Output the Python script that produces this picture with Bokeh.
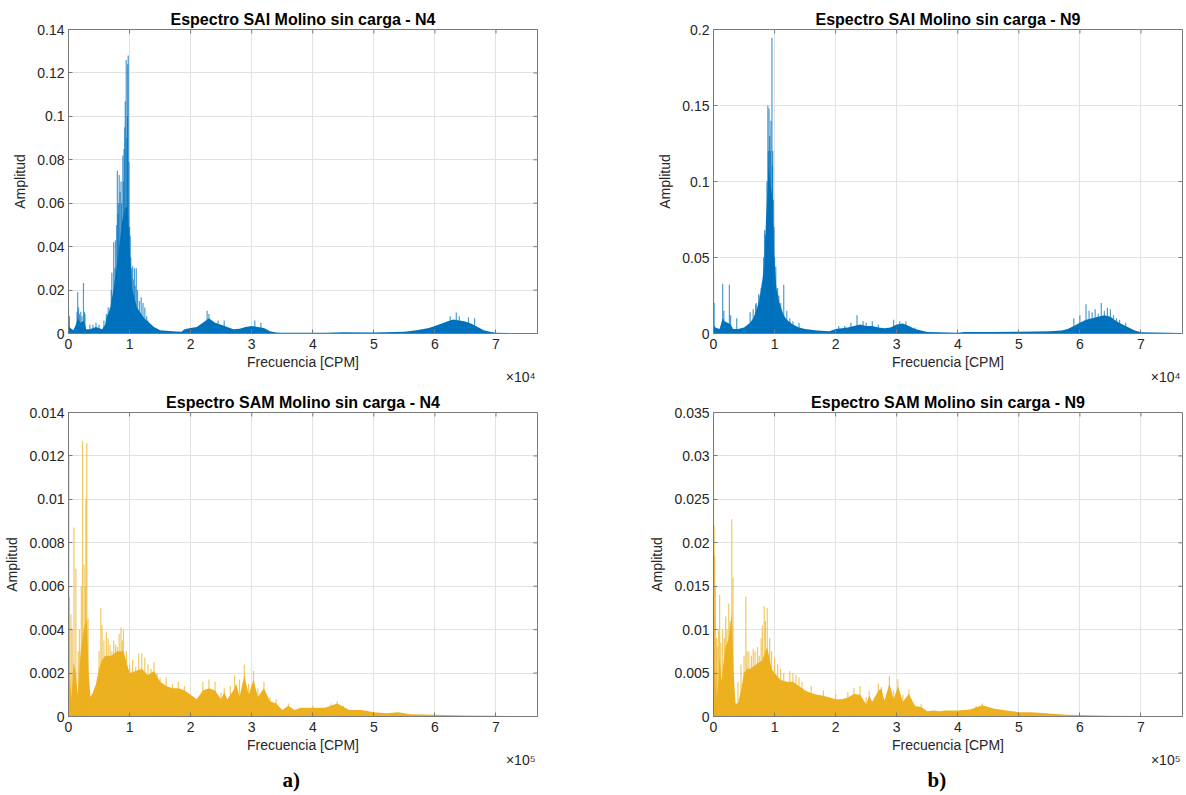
import math
from bokeh.plotting import figure
from bokeh.layouts import column, row
from bokeh.models import (Range1d, FixedTicker, CustomJSTickFormatter, Title, ColumnDataSource)
from bokeh.embed import file_html
from bokeh.resources import INLINE

# ---------------- data ----------------
# SAI spectrum, N4  (frequency in CPM, amplitude)
sai_n4_body_f = [0, 300, 800, 1200, 1500, 2000, 2500, 2900, 3500, 4500, 5500, 6000, 6300, 6800, 7400,
                 8000, 8300, 8800, 9300, 9700, 10000, 10400, 11200, 12400, 14000, 15000, 17000, 18500,
                 19000, 20000, 21000, 22000, 23000, 24000, 25000, 26000, 27000, 28000, 29000, 30000,
                 31000, 32000, 33000, 34000, 35000, 42000, 45000, 50000, 55000, 57000, 59000, 60000,
                 61000, 62000, 63000, 64000, 65000, 66000, 67000, 68000, 69000, 70000, 76800]
sai_n4_body_a = [0.004, 0.0025, 0.0015, 0.004, 0.007, 0.005, 0.006, 0.002, 0.002, 0.003, 0.002, 0.004,
                 0.008, 0.011, 0.021, 0.033, 0.04, 0.052, 0.058, 0.058, 0.04, 0.021, 0.012, 0.007, 0.003,
                 0.0015, 0.001, 0.0008, 0.002, 0.0025, 0.003, 0.005, 0.007, 0.005, 0.004, 0.003, 0.002,
                 0.0022, 0.003, 0.0035, 0.003, 0.0025, 0.001, 0.0005, 0.0003, 0.0003, 0.0006, 0.0005,
                 0.0008, 0.0015, 0.0025, 0.0035, 0.0045, 0.0055, 0.0065, 0.006, 0.0055, 0.0045, 0.003,
                 0.0015, 0.0008, 0.0003, 0.0002]
sai_n4_peak_f = [0, 150, 1400, 1500, 1650, 1800, 2000, 2200, 2450, 2600, 2700, 3500, 4000, 4500, 5000,
                 5800, 6200, 6500, 6800, 7000, 7100, 7400, 7600, 7700, 7900, 8000, 8100, 8200, 8300,
                 8450, 8600, 8700, 8900, 9000, 9100, 9200, 9300, 9450, 9550, 9650, 9700, 9780, 9900,
                 10000, 10100, 10200, 10300, 10500, 10600, 10800, 10900, 11100, 11300, 11600, 11900,
                 12200, 12500, 12800, 13000, 22700, 23000, 24500, 25500, 30500, 31500, 62500, 63500,
                 64000, 65500, 66500]
sai_n4_peak_a = [0.0114, 0.008, 0.01, 0.019, 0.012, 0.009, 0.01, 0.008, 0.0233, 0.01, 0.009, 0.004,
                 0.004, 0.005, 0.004, 0.006, 0.009, 0.012, 0.012, 0.02, 0.028, 0.042, 0.03, 0.043,
                 0.05, 0.075, 0.055, 0.06, 0.073, 0.065, 0.07, 0.06, 0.082, 0.07, 0.085, 0.095, 0.107,
                 0.126, 0.09, 0.1, 0.124, 0.128, 0.079, 0.049, 0.045, 0.035, 0.03, 0.031, 0.025, 0.03,
                 0.022, 0.030, 0.02, 0.015, 0.0167, 0.014, 0.012, 0.008, 0.006, 0.0105, 0.009, 0.006,
                 0.006, 0.006, 0.005, 0.008, 0.0097, 0.008, 0.0075, 0.007]

# SAI spectrum, N9
sai_n9_body_f = [0, 300, 1000, 1500, 1800, 2300, 2800, 3200, 4000, 5000, 6000, 6500, 7000, 7500, 8000,
                 8300, 8600, 8800, 9000, 9300, 9600, 9800, 10000, 10300, 10800, 11500, 12000, 13000,
                 14000, 15000, 17000, 19000, 20000, 21000, 22000, 23000, 24000, 25000, 26000, 27000,
                 28000, 29000, 30000, 31000, 32000, 33000, 34000, 35000, 37000, 40000, 41000, 45000,
                 50000, 55000, 57000, 58000, 59000, 60000, 61000, 62000, 63000, 64000, 65000, 66000,
                 67000, 68000, 69000, 70000, 76800]
sai_n9_body_a = [0.006, 0.004, 0.003, 0.01, 0.008, 0.007, 0.006, 0.003, 0.003, 0.004, 0.007, 0.01,
                 0.015, 0.022, 0.035, 0.045, 0.075, 0.09, 0.11, 0.1, 0.09, 0.07, 0.045, 0.03, 0.02,
                 0.012, 0.009, 0.006, 0.004, 0.003, 0.002, 0.0015, 0.003, 0.0035, 0.004, 0.005, 0.006,
                 0.005, 0.005, 0.004, 0.0035, 0.004, 0.006, 0.0065, 0.005, 0.003, 0.002, 0.001, 0.0008,
                 0.0005, 0.001, 0.001, 0.0012, 0.0015, 0.002, 0.003, 0.005, 0.007, 0.009, 0.01, 0.011,
                 0.012, 0.011, 0.008, 0.006, 0.004, 0.002, 0.0008, 0.0004]
sai_n9_peak_f = [0, 100, 1500, 1700, 2600, 2800, 3800, 6000, 6500, 6900, 7000, 7400, 7600, 7800, 8000,
                 8200, 8360, 8500, 8600, 8750, 8900, 9000, 9100, 9200, 9300, 9400, 9570, 9650, 9700,
                 9800, 9900, 10000, 10200, 10500, 10700, 11000, 11500, 12000, 12500, 13000, 14000,
                 20500, 21500, 22500, 23500, 24500, 25000, 26000, 27000, 29500, 30500, 31500, 33000,
                 59000, 60000, 61000, 61500, 62000, 62500, 63000, 63500, 64000, 64500, 65000, 65500,
                 66000, 66500, 67500]
sai_n9_peak_a = [0.04, 0.02, 0.0327, 0.015, 0.032, 0.012, 0.01, 0.014, 0.016, 0.019, 0.02, 0.026,
                 0.025, 0.03, 0.033, 0.05, 0.068, 0.065, 0.064, 0.1, 0.15, 0.12, 0.148, 0.13, 0.12,
                 0.14, 0.1945, 0.11, 0.12, 0.088, 0.07, 0.05, 0.044, 0.03, 0.025, 0.02, 0.032, 0.015,
                 0.01, 0.008, 0.007, 0.005, 0.005, 0.007, 0.012, 0.008, 0.007, 0.008, 0.006, 0.009,
                 0.008, 0.008, 0.004, 0.01, 0.012, 0.0193, 0.015, 0.014, 0.016, 0.013, 0.02, 0.015,
                 0.017, 0.016, 0.012, 0.01, 0.009, 0.007]

# SAM spectrum, N4
sam_n4_body_f = [0, 2000, 5000, 8000, 12000, 15000, 20000, 25000, 30000, 33000, 36000, 40000, 45000,
                 50000, 55000, 60000, 70000, 80000, 90000, 100000, 110000, 120000, 130000, 140000,
                 150000, 160000, 170000, 180000, 190000, 200000, 210000, 220000, 230000, 240000,
                 250000, 255000, 260000, 270000, 275000, 280000, 288000, 295000, 303000, 310000,
                 320000, 330000, 340000, 350000, 360000, 370000, 380000, 400000, 420000, 440000,
                 460000, 480000, 500000, 520000, 540000, 560000, 600000, 650000, 700000, 768000]
sam_n4_body_a = [0.006, 0.002, 0.0008, 0.0025, 0.002, 0.001, 0.003, 0.004, 0.0045, 0.002, 0.0009,
                 0.0011, 0.0015, 0.0022, 0.0026, 0.0028, 0.0028, 0.003, 0.003, 0.002, 0.0021, 0.0022,
                 0.0019, 0.0021, 0.0016, 0.0014, 0.0013, 0.0013, 0.0012, 0.001, 0.0008, 0.0012, 0.0013,
                 0.0012, 0.0008, 0.0011, 0.0008, 0.0012, 0.0015, 0.0009, 0.0019, 0.001, 0.0017, 0.0009,
                 0.0013, 0.0007, 0.0006, 0.0003, 0.0005, 0.0003, 0.0004, 0.0004, 0.0004, 0.0006, 0.0003,
                 0.0003, 0.0002, 0.00015, 0.0002, 0.0001, 0.00008, 0.00005, 0.00003, 0.00001]
sam_n4_peak_f = [0, 500, 1500, 4000, 6000, 9000, 12000, 16000, 18000, 21000, 23000, 25500, 27500,
                 28500, 30000, 32000, 50000, 53000, 55000, 58000, 62000, 65000, 68000, 71000, 74000,
                 77000, 80000, 83000, 86000, 88000, 90000, 95000, 100000, 105000, 110000, 115000,
                 120000, 125000, 130000, 135000, 140000, 145000, 150000, 160000, 170000, 180000,
                 190000, 220000, 230000, 240000, 250000, 255000, 265000, 272000, 280000, 288000,
                 295000, 303000, 310000, 320000, 330000, 340000, 360000, 400000, 430000, 440000,
                 450000]
sam_n4_peak_a = [0.0125, 0.012, 0.0055, 0.0047, 0.004, 0.0087, 0.0068, 0.003, 0.004, 0.006, 0.0127,
                 0.007, 0.006, 0.01, 0.0126, 0.0045, 0.003, 0.005, 0.0042, 0.0035, 0.0039, 0.0036,
                 0.0033, 0.003, 0.0035, 0.0033, 0.0032, 0.0038, 0.0041, 0.0035, 0.004, 0.003, 0.0024,
                 0.0026, 0.0023, 0.0029, 0.0029, 0.0027, 0.0024, 0.0022, 0.0025, 0.002, 0.0018,
                 0.0018, 0.0015, 0.0016, 0.0014, 0.0016, 0.0017, 0.0016, 0.0011, 0.0013, 0.0014,
                 0.0019, 0.0017, 0.0024, 0.0015, 0.0021, 0.0013, 0.0016, 0.0009, 0.0008, 0.0006,
                 0.0005, 0.0006, 0.0007, 0.0005]

# SAM spectrum, N9
sam_n9_body_f = [0, 1000, 2000, 5000, 8000, 10000, 13000, 16000, 20000, 25000, 30000, 33000, 36000,
                 40000, 45000, 50000, 55000, 60000, 70000, 80000, 88000, 95000, 100000, 110000, 120000,
                 130000, 140000, 150000, 160000, 170000, 180000, 190000, 200000, 210000, 220000,
                 230000, 240000, 250000, 255000, 260000, 270000, 275000, 280000, 288000, 295000,
                 302000, 310000, 320000, 330000, 340000, 350000, 360000, 370000, 380000, 400000,
                 420000, 440000, 460000, 480000, 500000, 520000, 540000, 560000, 580000, 600000,
                 650000, 700000, 768000]
sam_n9_body_a = [0.02, 0.012, 0.006, 0.002, 0.004, 0.007, 0.004, 0.006, 0.008, 0.009, 0.012, 0.005,
                 0.0015, 0.0015, 0.003, 0.005, 0.0055, 0.0055, 0.006, 0.0065, 0.008, 0.0055, 0.005,
                 0.0042, 0.004, 0.004, 0.0035, 0.003, 0.0027, 0.0025, 0.0024, 0.0022, 0.002, 0.002,
                 0.0022, 0.0026, 0.0025, 0.0014, 0.0024, 0.0017, 0.003, 0.0032, 0.0018, 0.0038, 0.002,
                 0.0035, 0.0017, 0.0026, 0.0012, 0.0011, 0.0006, 0.0007, 0.0006, 0.0007, 0.0007,
                 0.0008, 0.0013, 0.0009, 0.0007, 0.0005, 0.0005, 0.0004, 0.0003, 0.0002, 0.00018,
                 0.0001, 0.00005, 0.00003]
sam_n9_peak_f = [0, 1000, 2000, 3000, 5000, 6000, 8000, 10000, 12000, 15000, 18000, 20000, 22000,
                 25000, 27000, 30000, 32000, 40000, 45000, 50000, 53000, 55000, 58000, 62000, 65000,
                 68000, 72000, 75000, 78000, 80000, 83000, 85000, 88000, 92000, 95000, 100000, 105000,
                 110000, 115000, 125000, 130000, 135000, 140000, 145000, 160000, 180000, 200000,
                 220000, 230000, 240000, 250000, 255000, 270000, 275000, 288000, 295000, 302000,
                 310000, 320000, 340000, 430000, 440000]
sam_n9_peak_a = [0.031, 0.022, 0.0185, 0.015, 0.009, 0.008, 0.01, 0.014, 0.0085, 0.01, 0.009, 0.0115,
                 0.01, 0.013, 0.011, 0.0227, 0.016, 0.004, 0.006, 0.007, 0.0138, 0.0075, 0.0075, 0.007,
                 0.0078, 0.0075, 0.008, 0.007, 0.009, 0.0105, 0.0127, 0.011, 0.0125, 0.009, 0.0075,
                 0.0067, 0.006, 0.0055, 0.005, 0.0052, 0.005, 0.0048, 0.0045, 0.004, 0.0035, 0.003,
                 0.0026, 0.0028, 0.0033, 0.0035, 0.0022, 0.003, 0.0038, 0.0034, 0.0047, 0.003, 0.0043,
                 0.0025, 0.0031, 0.0014, 0.0012, 0.0015]

# axis ticks
sai_x_ticks = [0, 10000, 20000, 30000, 40000, 50000, 60000, 70000]
sam_x_ticks = [0, 100000, 200000, 300000, 400000, 500000, 600000, 700000]
sai_n4_y_ticks = [0, 0.02, 0.04, 0.06, 0.08, 0.1, 0.12, 0.14]
sai_n9_y_ticks = [0, 0.05, 0.1, 0.15, 0.2]
sam_n4_y_ticks = [0, 0.002, 0.004, 0.006, 0.008, 0.01, 0.012, 0.014]
sam_n9_y_ticks = [0, 0.005, 0.01, 0.015, 0.02, 0.025, 0.03, 0.035]
panel_tags = ["a)", "b)"]

BLUE = "#0072BD"
YELLOW = "#EDB120"
BOX = "#7a7a7a"
TXT = "#262626"
FONT = "Liberation Sans"


def make(title, xmax, xticks, xdiv, xexp, yticks, body_f, body_a, peak_f, peak_a, color,
         right_b, top_b, bot_b, tag=None):
    ymax = yticks[-1]
    p = figure(frame_width=469, frame_height=304, x_range=Range1d(0, xmax), y_range=Range1d(0, ymax),
               output_backend="svg", toolbar_location=None,
               min_border_left=68, min_border_right=right_b, min_border_top=top_b,
               min_border_bottom=bot_b)
    p.background_fill_color = "white"
    p.border_fill_color = "white"
    p.outline_line_color = BOX
    p.outline_line_width = 1

    p.xgrid.ticker = FixedTicker(ticks=xticks)
    p.ygrid.ticker = FixedTicker(ticks=yticks)
    p.xgrid.grid_line_color = "#e3e3e3"
    p.ygrid.grid_line_color = "#e3e3e3"

    p.varea(x=body_f, y1=[0] * len(body_f), y2=body_a, fill_color=color, fill_alpha=1.0)
    src = ColumnDataSource(dict(f=peak_f, a=peak_a, z=[0] * len(peak_f)))
    p.segment(x0="f", y0="z", x1="f", y1="a", source=src, line_color=color, line_width=1.2,
              line_alpha=0.7)

    # mirrored inward ticks on the right and top edges (box on)
    p.scatter(x=[xmax] * len(yticks), y=yticks, marker="dash", size=8, line_color=BOX,
              line_width=1)
    p.scatter(x=xticks, y=[ymax] * len(xticks), marker="dash", angle=math.pi / 2, size=8,
              line_color=BOX, line_width=1)

    p.title.text = title
    p.title.align = "center"
    p.title.text_font = FONT
    p.title.text_font_style = "bold"
    p.title.text_font_size = "16px"
    p.title.text_color = "#000000"
    p.title.standoff = 3

    xf = CustomJSTickFormatter(code="return String(Math.round(tick/%d));" % xdiv)
    yf = CustomJSTickFormatter(code="return String(parseFloat(tick.toPrecision(6)));")

    xa = p.xaxis[0]
    xa.ticker = FixedTicker(ticks=xticks)
    xa.formatter = xf
    xa.axis_label = "Frecuencia [CPM]"
    ya = p.yaxis[0]
    ya.ticker = FixedTicker(ticks=yticks)
    ya.formatter = yf
    ya.axis_label = "Amplitud"
    for ax in (xa, ya):
        ax.axis_line_color = BOX
        ax.major_tick_line_color = BOX
        ax.major_tick_in = 4
        ax.major_tick_out = 0
        ax.minor_tick_line_color = None
        ax.major_label_text_font = FONT
        ax.major_label_text_font_size = "14px"
        ax.major_label_text_color = TXT
        ax.axis_label_text_font = FONT
        ax.axis_label_text_font_size = "14px"
        ax.axis_label_text_font_style = "normal"
        ax.axis_label_text_color = TXT
    xa.major_label_standoff = 5
    xa.axis_label_standoff = 2
    ya.major_label_standoff = 4
    ya.axis_label_standoff = 6

    # exponent of the x axis (sits beside the axis label, at its right end)
    p.add_layout(Title(text="\u00d710" + xexp, align="right", text_font=FONT,
                       text_font_size="14px", text_font_style="normal", text_color=TXT,
                       standoff=-11, offset=2), "below")
    if tag:
        p.add_layout(Title(text=tag, align="left", text_font="Liberation Serif",
                           text_font_size="21px", text_font_style="bold", text_color="#000000",
                           standoff=7, offset=214), "below")
    return p


p1 = make("Espectro SAI Molino sin carga - N4", 76800, sai_x_ticks, 10000, "\u2074", sai_n4_y_ticks,
          sai_n4_body_f, sai_n4_body_a, sai_n4_peak_f, sai_n4_peak_a, BLUE, 108, 29, 57)
p2 = make("Espectro SAI Molino sin carga - N9", 76800, sai_x_ticks, 10000, "\u2074", sai_n9_y_ticks,
          sai_n9_body_f, sai_n9_body_a, sai_n9_peak_f, sai_n9_peak_a, BLUE, 4, 29, 57)
p3 = make("Espectro SAM Molino sin carga - N4", 768000, sam_x_ticks, 100000, "\u2075", sam_n4_y_ticks,
          sam_n4_body_f, sam_n4_body_a, sam_n4_peak_f, sam_n4_peak_a, YELLOW, 108, 21, 80,
          panel_tags[0])
p4 = make("Espectro SAM Molino sin carga - N9", 768000, sam_x_ticks, 100000, "\u2075", sam_n9_y_ticks,
          sam_n9_body_f, sam_n9_body_a, sam_n9_peak_f, sam_n9_peak_a, YELLOW, 4, 21, 80,
          panel_tags[1])

layout = column(row(p1, p2, spacing=0), row(p3, p4, spacing=0), spacing=0)
open("out.html", "w").write(file_html(layout, INLINE))
